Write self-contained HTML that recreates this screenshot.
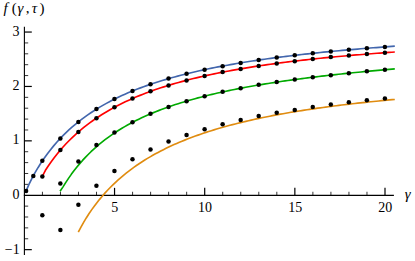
<!DOCTYPE html>
<html><head><meta charset="utf-8"><title>plot</title>
<style>html,body{margin:0;padding:0;background:#fff;overflow:hidden}body{width:415px;height:261px;position:relative;font-family:"Liberation Serif",serif}</style></head>
<body>
<svg width="415" height="261" viewBox="0 0 415 261" style="position:absolute;left:0;top:0;display:block">
<rect width="415" height="261" fill="#fff"/>
<g stroke="#000" stroke-width="1.1" fill="none">
<path d="M24.4,26.8 V255"/>
<path d="M23.849999999999998,195.35 H393.9"/>
<path d="M24.4,249.65 h7.4" stroke-width="1.2"/>
<path d="M24.4,238.77 h3.8" stroke-width="0.8"/>
<path d="M24.4,227.89 h3.8" stroke-width="0.8"/>
<path d="M24.4,217.01 h3.8" stroke-width="0.8"/>
<path d="M24.4,206.13 h3.8" stroke-width="0.8"/>
<path d="M24.4,184.37 h3.8" stroke-width="0.8"/>
<path d="M24.4,173.49 h3.8" stroke-width="0.8"/>
<path d="M24.4,162.61 h3.8" stroke-width="0.8"/>
<path d="M24.4,151.73 h3.8" stroke-width="0.8"/>
<path d="M24.4,140.85 h7.4" stroke-width="1.2"/>
<path d="M24.4,129.97 h3.8" stroke-width="0.8"/>
<path d="M24.4,119.09 h3.8" stroke-width="0.8"/>
<path d="M24.4,108.21 h3.8" stroke-width="0.8"/>
<path d="M24.4,97.33 h3.8" stroke-width="0.8"/>
<path d="M24.4,86.45 h7.4" stroke-width="1.2"/>
<path d="M24.4,75.57 h3.8" stroke-width="0.8"/>
<path d="M24.4,64.69 h3.8" stroke-width="0.8"/>
<path d="M24.4,53.81 h3.8" stroke-width="0.8"/>
<path d="M24.4,42.93 h3.8" stroke-width="0.8"/>
<path d="M24.4,32.05 h7.4" stroke-width="1.2"/>
<path d="M42.43,195.35 v-3.6" stroke-width="0.8"/>
<path d="M60.46,195.35 v-3.6" stroke-width="0.8"/>
<path d="M78.49,195.35 v-3.6" stroke-width="0.8"/>
<path d="M96.52,195.35 v-3.6" stroke-width="0.8"/>
<path d="M114.55,195.35 v-7.5" stroke-width="1.2"/>
<path d="M132.58,195.35 v-3.6" stroke-width="0.8"/>
<path d="M150.61,195.35 v-3.6" stroke-width="0.8"/>
<path d="M168.64,195.35 v-3.6" stroke-width="0.8"/>
<path d="M186.67,195.35 v-3.6" stroke-width="0.8"/>
<path d="M204.70,195.35 v-7.5" stroke-width="1.2"/>
<path d="M222.73,195.35 v-3.6" stroke-width="0.8"/>
<path d="M240.76,195.35 v-3.6" stroke-width="0.8"/>
<path d="M258.79,195.35 v-3.6" stroke-width="0.8"/>
<path d="M276.82,195.35 v-3.6" stroke-width="0.8"/>
<path d="M294.85,195.35 v-7.5" stroke-width="1.2"/>
<path d="M312.88,195.35 v-3.6" stroke-width="0.8"/>
<path d="M330.91,195.35 v-3.6" stroke-width="0.8"/>
<path d="M348.94,195.35 v-3.6" stroke-width="0.8"/>
<path d="M366.97,195.35 v-3.6" stroke-width="0.8"/>
<path d="M385.00,195.35 v-7.5" stroke-width="1.2"/>
</g>
<path d="M25.74,191.82 L28.84,184.63 L31.95,178.38 L35.05,172.69 L38.15,167.44 L41.25,162.55 L44.35,157.99 L47.45,153.70 L50.55,149.68 L53.65,145.88 L56.76,142.29 L59.86,138.89 L62.96,135.67 L66.06,132.62 L69.16,129.71 L72.26,126.94 L75.36,124.30 L78.46,121.78 L81.57,119.37 L84.67,117.07 L87.77,114.86 L90.87,112.75 L93.97,110.72 L97.07,108.77 L100.17,106.90 L103.28,105.10 L106.38,103.37 L109.48,101.70 L112.58,100.10 L115.68,98.55 L118.78,97.05 L121.88,95.61 L124.98,94.21 L128.09,92.86 L131.19,91.56 L134.29,90.30 L137.39,89.07 L140.49,87.89 L143.59,86.74 L146.69,85.63 L149.80,84.55 L152.90,83.50 L156.00,82.48 L159.10,81.49 L162.20,80.53 L165.30,79.60 L168.40,78.69 L171.50,77.80 L174.61,76.94 L177.71,76.11 L180.81,75.29 L183.91,74.49 L187.01,73.72 L190.11,72.96 L193.21,72.23 L196.32,71.51 L199.42,70.81 L202.52,70.12 L205.62,69.46 L208.72,68.80 L211.82,68.17 L214.92,67.54 L218.02,66.93 L221.13,66.34 L224.23,65.76 L227.33,65.19 L230.43,64.63 L233.53,64.09 L236.63,63.55 L239.73,63.03 L242.84,62.52 L245.94,62.02 L249.04,61.53 L252.14,61.05 L255.24,60.58 L258.34,60.12 L261.44,59.67 L264.54,59.22 L267.65,58.79 L270.75,58.36 L273.85,57.94 L276.95,57.53 L280.05,57.13 L283.15,56.73 L286.25,56.35 L289.35,55.97 L292.46,55.59 L295.56,55.22 L298.66,54.86 L301.76,54.51 L304.86,54.16 L307.96,53.82 L311.06,53.48 L314.17,53.15 L317.27,52.83 L320.37,52.51 L323.47,52.19 L326.57,51.88 L329.67,51.58 L332.77,51.28 L335.87,50.99 L338.98,50.70 L342.08,50.41 L345.18,50.13 L348.28,49.86 L351.38,49.59 L354.48,49.32 L357.58,49.06 L360.69,48.80 L363.79,48.54 L366.89,48.29 L369.99,48.04 L373.09,47.80 L376.19,47.56 L379.29,47.32 L382.39,47.09 L385.50,46.86 L388.60,46.64 L391.70,46.41 L394.80,46.19" fill="none" stroke="#4266ad" stroke-width="1.65" stroke-linejoin="round"/>
<path d="M42.33,176.40 L45.29,170.53 L48.25,165.96 L51.22,161.71 L54.18,157.72 L57.14,153.96 L60.10,150.39 L63.06,147.01 L66.03,143.80 L68.99,140.74 L71.95,137.83 L74.91,135.05 L77.87,132.40 L80.84,129.86 L83.80,127.43 L86.76,125.10 L89.72,122.87 L92.68,120.73 L95.64,118.68 L98.61,116.70 L101.57,114.80 L104.53,112.97 L107.49,111.20 L110.45,109.50 L113.42,107.87 L116.38,106.28 L119.34,104.76 L122.30,103.28 L125.26,101.85 L128.23,100.47 L131.19,99.14 L134.15,97.84 L137.11,96.59 L140.07,95.38 L143.04,94.20 L146.00,93.06 L148.96,91.95 L151.92,90.87 L154.88,89.83 L157.85,88.81 L160.81,87.82 L163.77,86.86 L166.73,85.93 L169.69,85.02 L172.66,84.14 L175.62,83.28 L178.58,82.44 L181.54,81.62 L184.50,80.83 L187.46,80.05 L190.43,79.29 L193.39,78.56 L196.35,77.84 L199.31,77.13 L202.27,76.45 L205.24,75.78 L208.20,75.12 L211.16,74.49 L214.12,73.86 L217.08,73.25 L220.05,72.66 L223.01,72.07 L225.97,71.50 L228.93,70.94 L231.89,70.40 L234.86,69.86 L237.82,69.34 L240.78,68.83 L243.74,68.33 L246.70,67.84 L249.67,67.36 L252.63,66.89 L255.59,66.43 L258.55,65.97 L261.51,65.53 L264.47,65.10 L267.44,64.67 L270.40,64.25 L273.36,63.84 L276.32,63.44 L279.28,63.05 L282.25,62.66 L285.21,62.28 L288.17,61.91 L291.13,61.54 L294.09,61.19 L297.06,60.83 L300.02,60.49 L302.98,60.15 L305.94,59.81 L308.90,59.49 L311.87,59.16 L314.83,58.85 L317.79,58.54 L320.75,58.23 L323.71,57.93 L326.68,57.64 L329.64,57.35 L332.60,57.06 L335.56,56.78 L338.52,56.50 L341.49,56.23 L344.45,55.97 L347.41,55.70 L350.37,55.45 L353.33,55.19 L356.29,54.94 L359.26,54.70 L362.22,54.45 L365.18,54.22 L368.14,53.98 L371.10,53.75 L374.07,53.52 L377.03,53.30 L379.99,53.08 L382.95,52.86 L385.91,52.65 L388.88,52.44 L391.84,52.23 L394.80,52.03" fill="none" stroke="#ff0000" stroke-width="1.65" stroke-linejoin="round"/>
<path d="M60.05,191.24 L62.86,187.10 L65.68,182.61 L68.49,178.36 L71.30,174.36 L74.12,170.59 L76.93,167.01 L79.74,163.63 L82.55,160.42 L85.37,157.37 L88.18,154.48 L90.99,151.72 L93.81,149.09 L96.62,146.58 L99.43,144.18 L102.25,141.89 L105.06,139.70 L107.87,137.59 L110.68,135.58 L113.50,133.64 L116.31,131.78 L119.12,129.99 L121.94,128.27 L124.75,126.61 L127.56,125.02 L130.38,123.47 L133.19,121.99 L136.00,120.55 L138.81,119.16 L141.63,117.82 L144.44,116.52 L147.25,115.26 L150.07,114.05 L152.88,112.87 L155.69,111.72 L158.51,110.61 L161.32,109.53 L164.13,108.48 L166.94,107.47 L169.76,106.48 L172.57,105.52 L175.38,104.58 L178.20,103.67 L181.01,102.79 L183.82,101.92 L186.64,101.08 L189.45,100.26 L192.26,99.46 L195.08,98.68 L197.89,97.92 L200.70,97.18 L203.51,96.45 L206.33,95.75 L209.14,95.05 L211.95,94.38 L214.77,93.72 L217.58,93.07 L220.39,92.44 L223.21,91.82 L226.02,91.21 L228.83,90.62 L231.64,90.04 L234.46,89.47 L237.27,88.91 L240.08,88.36 L242.90,87.83 L245.71,87.30 L248.52,86.79 L251.34,86.28 L254.15,85.79 L256.96,85.30 L259.77,84.83 L262.59,84.36 L265.40,83.90 L268.21,83.44 L271.03,83.00 L273.84,82.56 L276.65,82.14 L279.47,81.71 L282.28,81.30 L285.09,80.89 L287.91,80.49 L290.72,80.10 L293.53,79.71 L296.34,79.33 L299.16,78.95 L301.97,78.59 L304.78,78.22 L307.60,77.86 L310.41,77.51 L313.22,77.16 L316.04,76.82 L318.85,76.48 L321.66,76.15 L324.47,75.83 L327.29,75.50 L330.10,75.18 L332.91,74.87 L335.73,74.56 L338.54,74.26 L341.35,73.96 L344.17,73.66 L346.98,73.37 L349.79,73.08 L352.60,72.79 L355.42,72.51 L358.23,72.24 L361.04,71.96 L363.86,71.69 L366.67,71.42 L369.48,71.16 L372.30,70.90 L375.11,70.64 L377.92,70.39 L380.73,70.14 L383.55,69.89 L386.36,69.65 L389.17,69.40 L391.99,69.16 L394.80,68.93" fill="none" stroke="#00aa00" stroke-width="1.65" stroke-linejoin="round"/>
<path d="M78.30,232.12 L80.96,227.05 L83.62,222.34 L86.28,217.93 L88.94,213.79 L91.60,209.88 L94.26,206.18 L96.92,202.68 L99.58,199.35 L102.24,196.18 L104.90,193.16 L107.56,190.27 L110.22,187.51 L112.88,184.87 L115.54,182.34 L118.19,179.91 L120.85,177.57 L123.51,175.33 L126.17,173.17 L128.83,171.09 L131.49,169.08 L134.15,167.15 L136.81,165.28 L139.47,163.48 L142.13,161.74 L144.79,160.05 L147.45,158.42 L150.11,156.85 L152.77,155.32 L155.43,153.84 L158.09,152.40 L160.75,151.01 L163.41,149.65 L166.07,148.34 L168.73,147.06 L171.39,145.82 L174.05,144.62 L176.71,143.45 L179.37,142.31 L182.03,141.20 L184.69,140.12 L187.35,139.06 L190.01,138.04 L192.67,137.04 L195.33,136.07 L197.98,135.12 L200.64,134.19 L203.30,133.29 L205.96,132.40 L208.62,131.54 L211.28,130.70 L213.94,129.88 L216.60,129.08 L219.26,128.29 L221.92,127.52 L224.58,126.77 L227.24,126.04 L229.90,125.32 L232.56,124.62 L235.22,123.94 L237.88,123.26 L240.54,122.60 L243.20,121.96 L245.86,121.33 L248.52,120.71 L251.18,120.11 L253.84,119.51 L256.50,118.93 L259.16,118.36 L261.82,117.80 L264.48,117.25 L267.14,116.72 L269.80,116.19 L272.46,115.67 L275.12,115.17 L277.77,114.67 L280.43,114.18 L283.09,113.70 L285.75,113.23 L288.41,112.77 L291.07,112.31 L293.73,111.87 L296.39,111.43 L299.05,111.00 L301.71,110.58 L304.37,110.16 L307.03,109.75 L309.69,109.35 L312.35,108.96 L315.01,108.57 L317.67,108.19 L320.33,107.82 L322.99,107.45 L325.65,107.09 L328.31,106.73 L330.97,106.38 L333.63,106.04 L336.29,105.70 L338.95,105.36 L341.61,105.04 L344.27,104.71 L346.93,104.40 L349.59,104.08 L352.25,103.78 L354.91,103.47 L357.56,103.17 L360.22,102.88 L362.88,102.59 L365.54,102.31 L368.20,102.03 L370.86,101.75 L373.52,101.48 L376.18,101.21 L378.84,100.95 L381.50,100.69 L384.16,100.43 L386.82,100.18 L389.48,99.93 L392.14,99.69 L394.80,99.45" fill="none" stroke="#e08c10" stroke-width="1.65" stroke-linejoin="round"/>
<g fill="#000">
<circle cx="26.10" cy="190.90" r="2.25"/>
<circle cx="33.31" cy="175.90" r="2.25"/>
<circle cx="42.33" cy="160.70" r="2.25"/>
<circle cx="60.36" cy="138.50" r="2.25"/>
<circle cx="78.39" cy="122.00" r="2.25"/>
<circle cx="96.42" cy="109.10" r="2.25"/>
<circle cx="114.45" cy="99.10" r="2.25"/>
<circle cx="132.48" cy="91.00" r="2.25"/>
<circle cx="150.51" cy="84.20" r="2.25"/>
<circle cx="168.54" cy="78.60" r="2.25"/>
<circle cx="186.57" cy="73.80" r="2.25"/>
<circle cx="204.60" cy="69.70" r="2.25"/>
<circle cx="222.63" cy="66.20" r="2.25"/>
<circle cx="240.66" cy="62.90" r="2.25"/>
<circle cx="258.69" cy="60.10" r="2.25"/>
<circle cx="276.72" cy="57.60" r="2.25"/>
<circle cx="294.75" cy="55.30" r="2.25"/>
<circle cx="312.78" cy="53.30" r="2.25"/>
<circle cx="330.81" cy="51.50" r="2.25"/>
<circle cx="348.84" cy="49.70" r="2.25"/>
<circle cx="366.87" cy="48.20" r="2.25"/>
<circle cx="384.90" cy="47.00" r="2.25"/>
<circle cx="42.33" cy="176.40" r="2.25"/>
<circle cx="60.36" cy="150.10" r="2.25"/>
<circle cx="78.39" cy="131.90" r="2.25"/>
<circle cx="96.42" cy="118.20" r="2.25"/>
<circle cx="114.45" cy="107.35" r="2.25"/>
<circle cx="132.48" cy="98.60" r="2.25"/>
<circle cx="150.51" cy="91.20" r="2.25"/>
<circle cx="168.54" cy="85.40" r="2.25"/>
<circle cx="186.57" cy="80.40" r="2.25"/>
<circle cx="204.60" cy="75.90" r="2.25"/>
<circle cx="222.63" cy="72.00" r="2.25"/>
<circle cx="240.66" cy="69.00" r="2.25"/>
<circle cx="258.69" cy="65.90" r="2.25"/>
<circle cx="276.72" cy="63.40" r="2.25"/>
<circle cx="294.75" cy="61.20" r="2.25"/>
<circle cx="312.78" cy="59.10" r="2.25"/>
<circle cx="330.81" cy="57.10" r="2.25"/>
<circle cx="348.84" cy="55.60" r="2.25"/>
<circle cx="366.87" cy="54.00" r="2.25"/>
<circle cx="384.90" cy="52.80" r="2.25"/>
<circle cx="42.33" cy="215.30" r="2.25"/>
<circle cx="60.36" cy="183.60" r="2.25"/>
<circle cx="78.39" cy="161.40" r="2.25"/>
<circle cx="96.42" cy="145.10" r="2.25"/>
<circle cx="114.45" cy="132.45" r="2.25"/>
<circle cx="132.48" cy="122.30" r="2.25"/>
<circle cx="150.51" cy="113.85" r="2.25"/>
<circle cx="168.54" cy="107.00" r="2.25"/>
<circle cx="186.57" cy="101.20" r="2.25"/>
<circle cx="204.60" cy="96.20" r="2.25"/>
<circle cx="222.63" cy="91.70" r="2.25"/>
<circle cx="240.66" cy="88.25" r="2.25"/>
<circle cx="258.69" cy="84.85" r="2.25"/>
<circle cx="276.72" cy="82.05" r="2.25"/>
<circle cx="294.75" cy="79.60" r="2.25"/>
<circle cx="312.78" cy="77.30" r="2.25"/>
<circle cx="330.81" cy="75.30" r="2.25"/>
<circle cx="348.84" cy="73.30" r="2.25"/>
<circle cx="366.87" cy="71.20" r="2.25"/>
<circle cx="384.90" cy="69.70" r="2.25"/>
<circle cx="60.36" cy="229.90" r="2.25"/>
<circle cx="78.39" cy="204.80" r="2.25"/>
<circle cx="96.42" cy="185.70" r="2.25"/>
<circle cx="114.45" cy="171.10" r="2.25"/>
<circle cx="132.48" cy="159.30" r="2.25"/>
<circle cx="150.51" cy="149.55" r="2.25"/>
<circle cx="168.54" cy="141.60" r="2.25"/>
<circle cx="186.57" cy="135.00" r="2.25"/>
<circle cx="204.60" cy="129.20" r="2.25"/>
<circle cx="222.63" cy="124.25" r="2.25"/>
<circle cx="240.66" cy="119.90" r="2.25"/>
<circle cx="258.69" cy="116.05" r="2.25"/>
<circle cx="276.72" cy="112.80" r="2.25"/>
<circle cx="294.75" cy="109.90" r="2.25"/>
<circle cx="312.78" cy="107.05" r="2.25"/>
<circle cx="330.81" cy="104.55" r="2.25"/>
<circle cx="348.84" cy="102.35" r="2.25"/>
<circle cx="366.87" cy="100.30" r="2.25"/>
<circle cx="384.90" cy="98.45" r="2.25"/>
</g>
<g fill="#000" font-family="'Liberation Serif', serif" font-size="14">
<text x="12.6" y="35.65">3</text>
<text x="12.6" y="90.05">2</text>
<text x="12.6" y="144.45">1</text>
<text x="12.6" y="198.85">0</text>
<text x="19.65" y="253.6" text-anchor="end">−1</text>
<text x="111.35" y="212.25">5</text>
<text x="198" y="212.25">10</text>
<text x="288.15" y="212.25">15</text>
<text x="378.3" y="212.25">20</text>
</g>
<g fill="#000" font-family="'Liberation Serif', serif" font-size="15">
<text x="404.7" y="199" font-style="italic">γ</text>
<text y="13.2"><tspan x="3.4" font-style="italic">f</tspan><tspan x="11.8">(</tspan><tspan x="17.6" font-style="italic">γ</tspan><tspan x="25.7">,</tspan><tspan x="31.65" font-style="italic">τ</tspan><tspan x="39.6">)</tspan></text>
</g>
</svg>
</body></html>
